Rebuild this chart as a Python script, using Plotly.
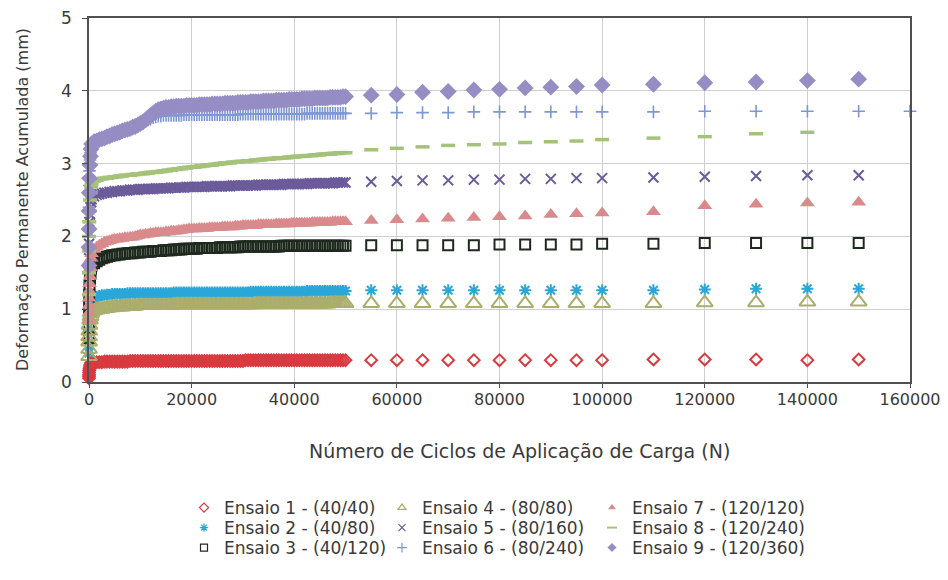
import plotly.graph_objects as go

# ---------------- data ----------------
X_EARLY = [1, 5, 10, 20, 50, 100, 200, 300, 400]
X_DENSE = [500, 1000, 1500, 2000, 2500, 3000, 3500, 4000, 4500, 5000,
           5500, 6000, 6500, 7000, 7500, 8000, 8500, 9000, 9500, 10000,
           10500, 11000, 11500, 12000, 12500, 13000, 13500, 14000, 14500, 15000,
           15500, 16000, 16500, 17000, 17500, 18000, 18500, 19000, 19500, 20000,
           20500, 21000, 21500, 22000, 22500, 23000, 23500, 24000, 24500, 25000,
           25500, 26000, 26500, 27000, 27500, 28000, 28500, 29000, 29500, 30000,
           30500, 31000, 31500, 32000, 32500, 33000, 33500, 34000, 34500, 35000,
           35500, 36000, 36500, 37000, 37500, 38000, 38500, 39000, 39500, 40000,
           40500, 41000, 41500, 42000, 42500, 43000, 43500, 44000, 44500, 45000,
           45500, 46000, 46500, 47000, 47500, 48000, 48500, 49000, 49500, 50000]
X_SPARSE = [55000, 60000, 65000, 70000, 75000, 80000, 85000, 90000, 95000, 100000,
            110000, 120000, 130000, 140000, 150000]
X_SPARSE_E8 = [55000, 60000, 65000, 70000, 75000, 80000, 85000, 90000, 95000, 100000,
               110000, 120000, 130000, 140000]
X_SPARSE_E6 = [55000, 60000, 65000, 70000, 75000, 80000, 85000, 90000, 95000, 100000,
               110000, 120000, 130000, 140000, 150000, 160000]

names = ["Ensaio 1 - (40/40)", "Ensaio 2 - (40/80)", "Ensaio 3 - (40/120)",
         "Ensaio 4 - (80/80)", "Ensaio 5 - (80/160)", "Ensaio 6 - (80/240)",
         "Ensaio 7 - (120/120)", "Ensaio 8 - (120/240)", "Ensaio 9 - (120/360)"]

X_TITLE = "Número de Ciclos de Aplicação de Carga (N)"
Y_TITLE = "Deformação Permanente Acumulada (mm)"

e1 = ([0.05, 0.08, 0.10, 0.13, 0.16, 0.19, 0.22, 0.24, 0.26] +
      [0.26, 0.27, 0.27, 0.27, 0.27, 0.28, 0.28, 0.28, 0.28, 0.28,
       0.28, 0.28, 0.28, 0.28, 0.28, 0.29, 0.29, 0.29, 0.29, 0.29,
       0.29, 0.29, 0.29, 0.29, 0.29, 0.29, 0.29, 0.29, 0.29, 0.29,
       0.29, 0.29, 0.29, 0.29, 0.29, 0.29, 0.29, 0.29, 0.29, 0.29,
       0.29, 0.29, 0.29, 0.29, 0.29, 0.29, 0.29, 0.29, 0.29, 0.29,
       0.29, 0.29, 0.29, 0.29, 0.29, 0.29, 0.29, 0.29, 0.29, 0.29,
       0.30, 0.30, 0.30, 0.30, 0.30, 0.30, 0.30, 0.30, 0.30, 0.30,
       0.30, 0.30, 0.30, 0.30, 0.30, 0.30, 0.30, 0.30, 0.30, 0.30,
       0.30, 0.30, 0.30, 0.30, 0.30, 0.30, 0.30, 0.30, 0.30, 0.30,
       0.30, 0.30, 0.30, 0.30, 0.30, 0.30, 0.30, 0.30, 0.30, 0.30] +
      [0.30, 0.30, 0.30, 0.30, 0.30, 0.30, 0.30, 0.30, 0.30, 0.30,
       0.31, 0.31, 0.31, 0.30, 0.31])
e2 = ([0.40, 0.45, 0.55, 0.65, 0.75, 0.85, 0.95, 1.02, 1.08] +
      [1.12, 1.16, 1.17, 1.18, 1.19, 1.19, 1.20, 1.20, 1.21, 1.21,
       1.21, 1.21, 1.21, 1.21, 1.22, 1.22, 1.22, 1.22, 1.22, 1.22,
       1.22, 1.22, 1.22, 1.22, 1.22, 1.22, 1.22, 1.22, 1.22, 1.22,
       1.22, 1.22, 1.23, 1.23, 1.23, 1.23, 1.23, 1.23, 1.23, 1.23,
       1.23, 1.23, 1.23, 1.23, 1.23, 1.23, 1.23, 1.23, 1.23, 1.23,
       1.23, 1.23, 1.23, 1.23, 1.23, 1.23, 1.23, 1.23, 1.23, 1.23,
       1.23, 1.23, 1.24, 1.24, 1.24, 1.24, 1.24, 1.24, 1.24, 1.24,
       1.24, 1.24, 1.24, 1.24, 1.24, 1.24, 1.24, 1.24, 1.24, 1.24,
       1.24, 1.24, 1.24, 1.24, 1.25, 1.25, 1.25, 1.25, 1.25, 1.25,
       1.25, 1.25, 1.25, 1.25, 1.25, 1.25, 1.25, 1.25, 1.25, 1.25] +
      [1.26, 1.26, 1.26, 1.26, 1.26, 1.26, 1.26, 1.26, 1.26, 1.26,
       1.26, 1.27, 1.28, 1.28, 1.28])
e3 = ([0.60, 0.75, 0.90, 1.05, 1.20, 1.32, 1.42, 1.50, 1.56] +
      [1.60, 1.63, 1.66, 1.68, 1.70, 1.71, 1.72, 1.73, 1.74, 1.74,
       1.75, 1.75, 1.76, 1.76, 1.77, 1.77, 1.77, 1.78, 1.78, 1.78,
       1.79, 1.79, 1.79, 1.79, 1.80, 1.80, 1.80, 1.80, 1.81, 1.81,
       1.81, 1.81, 1.82, 1.82, 1.82, 1.82, 1.83, 1.83, 1.83, 1.83,
       1.83, 1.83, 1.84, 1.84, 1.84, 1.84, 1.84, 1.84, 1.84, 1.84,
       1.85, 1.85, 1.85, 1.85, 1.85, 1.85, 1.85, 1.85, 1.86, 1.86,
       1.86, 1.86, 1.86, 1.86, 1.86, 1.86, 1.86, 1.86, 1.86, 1.86,
       1.86, 1.86, 1.86, 1.86, 1.87, 1.87, 1.87, 1.87, 1.87, 1.87,
       1.87, 1.87, 1.87, 1.87, 1.87, 1.87, 1.87, 1.87, 1.87, 1.87,
       1.87, 1.87, 1.87, 1.87, 1.87, 1.87, 1.87, 1.87, 1.87, 1.87] +
      [1.88, 1.88, 1.88, 1.88, 1.88, 1.89, 1.89, 1.89, 1.89, 1.90,
       1.90, 1.91, 1.91, 1.91, 1.91])
e4 = ([0.35, 0.45, 0.55, 0.62, 0.70, 0.78, 0.85, 0.90, 0.94] +
      [0.96, 0.98, 0.99, 1.00, 1.00, 1.01, 1.01, 1.02, 1.02, 1.03,
       1.03, 1.03, 1.03, 1.04, 1.04, 1.04, 1.04, 1.04, 1.05, 1.05,
       1.05, 1.05, 1.05, 1.05, 1.05, 1.05, 1.05, 1.05, 1.05, 1.05,
       1.05, 1.05, 1.06, 1.06, 1.06, 1.06, 1.06, 1.06, 1.06, 1.06,
       1.06, 1.06, 1.06, 1.06, 1.06, 1.06, 1.06, 1.06, 1.06, 1.06,
       1.06, 1.06, 1.06, 1.06, 1.06, 1.06, 1.06, 1.06, 1.06, 1.06,
       1.06, 1.06, 1.06, 1.06, 1.07, 1.07, 1.07, 1.07, 1.07, 1.07,
       1.07, 1.07, 1.07, 1.07, 1.07, 1.07, 1.07, 1.07, 1.07, 1.07,
       1.07, 1.07, 1.07, 1.07, 1.07, 1.07, 1.07, 1.07, 1.07, 1.07,
       1.07, 1.07, 1.07, 1.08, 1.08, 1.08, 1.08, 1.08, 1.08, 1.08] +
      [1.08, 1.08, 1.08, 1.08, 1.08, 1.08, 1.08, 1.08, 1.08, 1.08,
       1.08, 1.09, 1.09, 1.10, 1.10])
e5 = ([1.30, 1.50, 1.70, 1.90, 2.05, 2.20, 2.30, 2.40, 2.47] +
      [2.51, 2.55, 2.57, 2.58, 2.59, 2.60, 2.60, 2.61, 2.61, 2.62,
       2.62, 2.62, 2.63, 2.63, 2.63, 2.64, 2.64, 2.64, 2.64, 2.65,
       2.65, 2.65, 2.65, 2.65, 2.65, 2.66, 2.66, 2.66, 2.66, 2.66,
       2.66, 2.67, 2.67, 2.67, 2.67, 2.67, 2.67, 2.68, 2.68, 2.68,
       2.68, 2.68, 2.68, 2.68, 2.68, 2.69, 2.69, 2.69, 2.69, 2.69,
       2.69, 2.69, 2.69, 2.69, 2.69, 2.70, 2.70, 2.70, 2.70, 2.70,
       2.70, 2.70, 2.70, 2.70, 2.70, 2.71, 2.71, 2.71, 2.71, 2.71,
       2.71, 2.71, 2.71, 2.71, 2.71, 2.72, 2.72, 2.72, 2.72, 2.72,
       2.72, 2.72, 2.72, 2.72, 2.72, 2.73, 2.73, 2.73, 2.73, 2.73,
       2.73, 2.73, 2.73, 2.73, 2.73, 2.74, 2.74, 2.74, 2.74, 2.74] +
      [2.75, 2.76, 2.77, 2.77, 2.78, 2.78, 2.79, 2.79, 2.80, 2.80,
       2.81, 2.82, 2.83, 2.84, 2.84])
e6 = ([1.50, 1.80, 2.10, 2.40, 2.70, 2.90, 3.05, 3.15, 3.22] +
      [3.26, 3.28, 3.30, 3.32, 3.34, 3.35, 3.37, 3.38, 3.40, 3.41,
       3.43, 3.44, 3.46, 3.47, 3.49, 3.50, 3.52, 3.53, 3.54, 3.55,
       3.57, 3.58, 3.60, 3.61, 3.63, 3.64, 3.65, 3.65, 3.66, 3.66,
       3.66, 3.66, 3.66, 3.66, 3.66, 3.66, 3.67, 3.67, 3.67, 3.67,
       3.67, 3.67, 3.67, 3.67, 3.67, 3.67, 3.67, 3.67, 3.67, 3.67,
       3.67, 3.67, 3.67, 3.67, 3.67, 3.67, 3.67, 3.67, 3.68, 3.68,
       3.68, 3.68, 3.68, 3.68, 3.68, 3.68, 3.68, 3.68, 3.68, 3.68,
       3.68, 3.68, 3.68, 3.68, 3.68, 3.68, 3.68, 3.68, 3.68, 3.68,
       3.68, 3.68, 3.68, 3.68, 3.69, 3.69, 3.69, 3.69, 3.69, 3.69,
       3.69, 3.69, 3.69, 3.69, 3.69, 3.69, 3.69, 3.69, 3.69, 3.69] +
      [3.69, 3.70, 3.70, 3.70, 3.71, 3.71, 3.71, 3.71, 3.71, 3.71,
       3.71, 3.72, 3.72, 3.72, 3.72, 3.72])
e7 = ([0.85, 0.95, 1.05, 1.15, 1.25, 1.35, 1.45, 1.57, 1.70] +
      [1.76, 1.82, 1.85, 1.88, 1.90, 1.92, 1.93, 1.94, 1.95, 1.96,
       1.96, 1.97, 1.97, 1.98, 1.98, 1.99, 1.99, 2.00, 2.01, 2.02,
       2.02, 2.03, 2.03, 2.04, 2.04, 2.05, 2.05, 2.05, 2.05, 2.06,
       2.06, 2.07, 2.07, 2.07, 2.08, 2.08, 2.09, 2.09, 2.10, 2.10,
       2.10, 2.10, 2.11, 2.11, 2.11, 2.11, 2.12, 2.12, 2.12, 2.12,
       2.12, 2.13, 2.13, 2.13, 2.13, 2.13, 2.14, 2.14, 2.14, 2.15,
       2.15, 2.15, 2.15, 2.15, 2.15, 2.16, 2.16, 2.16, 2.16, 2.16,
       2.16, 2.16, 2.17, 2.17, 2.17, 2.17, 2.17, 2.17, 2.18, 2.18,
       2.18, 2.18, 2.18, 2.18, 2.18, 2.18, 2.19, 2.19, 2.19, 2.19,
       2.19, 2.19, 2.19, 2.19, 2.20, 2.20, 2.20, 2.20, 2.20, 2.20] +
      [2.22, 2.23, 2.24, 2.25, 2.26, 2.27, 2.28, 2.30, 2.31, 2.32,
       2.34, 2.42, 2.44, 2.46, 2.47])
e8 = ([1.20, 1.50, 1.80, 2.00, 2.20, 2.35, 2.50, 2.60, 2.68] +
      [2.72, 2.76, 2.77, 2.79, 2.79, 2.80, 2.80, 2.81, 2.81, 2.82,
       2.82, 2.83, 2.83, 2.84, 2.84, 2.84, 2.85, 2.85, 2.86, 2.86,
       2.86, 2.87, 2.87, 2.88, 2.88, 2.88, 2.89, 2.89, 2.90, 2.90,
       2.91, 2.91, 2.92, 2.92, 2.93, 2.93, 2.94, 2.94, 2.95, 2.95,
       2.95, 2.96, 2.96, 2.97, 2.97, 2.98, 2.98, 2.98, 2.99, 2.99,
       3.00, 3.00, 3.01, 3.01, 3.01, 3.02, 3.02, 3.02, 3.03, 3.03,
       3.03, 3.04, 3.04, 3.04, 3.05, 3.05, 3.05, 3.06, 3.06, 3.06,
       3.07, 3.07, 3.07, 3.08, 3.08, 3.08, 3.08, 3.09, 3.09, 3.09,
       3.10, 3.10, 3.10, 3.10, 3.11, 3.11, 3.11, 3.12, 3.12, 3.12,
       3.13, 3.13, 3.13, 3.13, 3.14, 3.14, 3.14, 3.15, 3.15, 3.15] +
      [3.19, 3.21, 3.23, 3.25, 3.26, 3.27, 3.29, 3.30, 3.31, 3.33,
       3.35, 3.37, 3.41, 3.43])
e9 = ([1.60, 1.85, 2.10, 2.35, 2.60, 2.80, 2.98, 3.10, 3.20] +
      [3.27, 3.30, 3.31, 3.33, 3.34, 3.35, 3.37, 3.38, 3.40, 3.41,
       3.42, 3.43, 3.45, 3.46, 3.47, 3.48, 3.50, 3.51, 3.53, 3.55,
       3.57, 3.60, 3.63, 3.66, 3.69, 3.72, 3.74, 3.75, 3.76, 3.77,
       3.77, 3.78, 3.78, 3.79, 3.79, 3.79, 3.79, 3.80, 3.80, 3.80,
       3.80, 3.80, 3.81, 3.81, 3.81, 3.81, 3.81, 3.82, 3.82, 3.82,
       3.82, 3.82, 3.83, 3.83, 3.83, 3.83, 3.83, 3.84, 3.84, 3.84,
       3.84, 3.84, 3.85, 3.85, 3.85, 3.85, 3.85, 3.86, 3.86, 3.86,
       3.86, 3.86, 3.87, 3.87, 3.87, 3.87, 3.87, 3.88, 3.88, 3.88,
       3.88, 3.88, 3.89, 3.89, 3.89, 3.89, 3.89, 3.90, 3.90, 3.90,
       3.90, 3.90, 3.90, 3.91, 3.91, 3.91, 3.91, 3.91, 3.92, 3.92] +
      [3.94, 3.95, 3.98, 3.99, 4.01, 4.02, 4.04, 4.05, 4.06, 4.08,
       4.09, 4.11, 4.12, 4.14, 4.16])

X_TICKS = [0, 20000, 40000, 60000, 80000, 100000, 120000, 140000, 160000]
Y_TICKS = [0, 1, 2, 3, 4, 5]

# ---------------- styles ----------------
styles = [
    dict(symbol="diamond-open", size=9, color="#d83a3f", lw=2),
    dict(symbol="asterisk-open", size=10, color="#2aa7d8", lw=2),
    dict(symbol="square-open", size=10, color="#1f2a1f", lw=2),
    dict(symbol="triangle-up-open", size=14, color="#aaad6c", lw=2),
    dict(symbol="x-thin-open", size=10, color="#6b5b9a", lw=2),
    dict(symbol="cross-thin-open", size=9, color="#7d97d4", lw=1.6),
    dict(symbol="triangle-up", size=13, color="#d98a8c", lw=0),
    dict(symbol="line-ew-open", size=10, color="#a5c27a", lw=3.5),
    dict(symbol="diamond", size=13, color="#958dc4", lw=0),
]

series = [
    (X_EARLY + X_DENSE + X_SPARSE, e1),
    (X_EARLY + X_DENSE + X_SPARSE, e2),
    (X_EARLY + X_DENSE + X_SPARSE, e3),
    (X_EARLY + X_DENSE + X_SPARSE, e4),
    (X_EARLY + X_DENSE + X_SPARSE, e5),
    (X_EARLY + X_DENSE + X_SPARSE_E6, e6),
    (X_EARLY + X_DENSE + X_SPARSE, e7),
    (X_EARLY + X_DENSE + X_SPARSE_E8, e8),
    (X_EARLY + X_DENSE + X_SPARSE, e9),
]

FONT = "DejaVu Sans"
TXT = "#3a3a3a"

# page has an 8px body margin on every side: 932x564 fills the 948x580 window
W, H = 932, 564
ML, MR, MT, MB = 81, 30, 10, 190

fig = go.Figure()
for i, ((xs, ys), st) in enumerate(zip(series, styles)):
    marker = dict(symbol=st["symbol"], size=st["size"], color=st["color"])
    if st["lw"]:
        marker["line"] = dict(color=st["color"], width=st["lw"])
    fig.add_trace(go.Scatter(x=xs, y=ys, mode="markers", marker=marker,
                             name=names[i], showlegend=False, cliponaxis=False))

# legend entries: one small legend per entry, laid out in 3 columns x 3 rows
col_px = [176, 374, 584]
row_px = [500, 520, 540]
legend_layout = {}
for i, st in enumerate(styles):
    lid = "legend" if i == 0 else "legend%d" % (i + 1)
    lm = dict(symbol=st["symbol"], size=7, color=st["color"])
    if st["lw"]:
        lm["line"] = dict(color=st["color"], width=1.2 if st["lw"] < 3 else 2)
    fig.add_trace(go.Scatter(x=[None], y=[None], mode="markers", marker=lm,
                             name=names[i], showlegend=True, legend=lid))
    legend_layout[lid] = dict(
        orientation="v", xref="container", yref="container",
        x=col_px[i // 3] / W, xanchor="left",
        y=1 - row_px[i % 3] / H, yanchor="middle",
        font=dict(family=FONT, size=17, color=TXT),
        bgcolor="rgba(0,0,0,0)", itemwidth=30, borderwidth=0)

plot_w = W - ML - MR
plot_h = H - MT - MB

fig.update_layout(
    width=W, height=H,
    margin=dict(l=ML, r=MR, t=MT, b=MB, autoexpand=False),
    paper_bgcolor="white", plot_bgcolor="white",
    font=dict(family=FONT, size=15, color=TXT),
    xaxis=dict(range=[0, 160000], tickvals=X_TICKS, ticktext=[str(v) for v in X_TICKS],
               automargin=False, ticklabeloverflow="allow",
               showgrid=True, gridcolor="#cfcfcf", gridwidth=1,
               showline=True, linecolor="#505050", linewidth=1.5, mirror=True,
               ticks="outside", ticklen=4, tickcolor="#505050",
               zeroline=False, ticklabelstandoff=-2,
               tickfont=dict(family=FONT, size=16, color=TXT)),
    yaxis=dict(range=[0, 5], tickvals=Y_TICKS, automargin=False,
               ticklabeloverflow="allow",
               showgrid=True, gridcolor="#cfcfcf", gridwidth=1,
               showline=True, linecolor="#505050", linewidth=1.5, mirror=True,
               ticks="outside", ticklen=5, tickcolor="#505050",
               zeroline=False, ticklabelstandoff=7,
               tickfont=dict(family=FONT, size=17, color=TXT)),
    annotations=[
        dict(text=X_TITLE, xref="paper", yref="paper",
             x=(512 - ML) / plot_w, y=-(443 - (MT + plot_h)) / plot_h,
             xanchor="center", yanchor="middle", showarrow=False,
             font=dict(family=FONT, size=19, color=TXT)),
        dict(text=Y_TITLE, xref="paper", yref="paper",
             x=(14 - ML) / plot_w, y=0.5, textangle=-90,
             xanchor="center", yanchor="middle", showarrow=False,
             font=dict(family=FONT, size=16, color=TXT)),
    ],
    **legend_layout,
)

fig.write_html("out.html")
